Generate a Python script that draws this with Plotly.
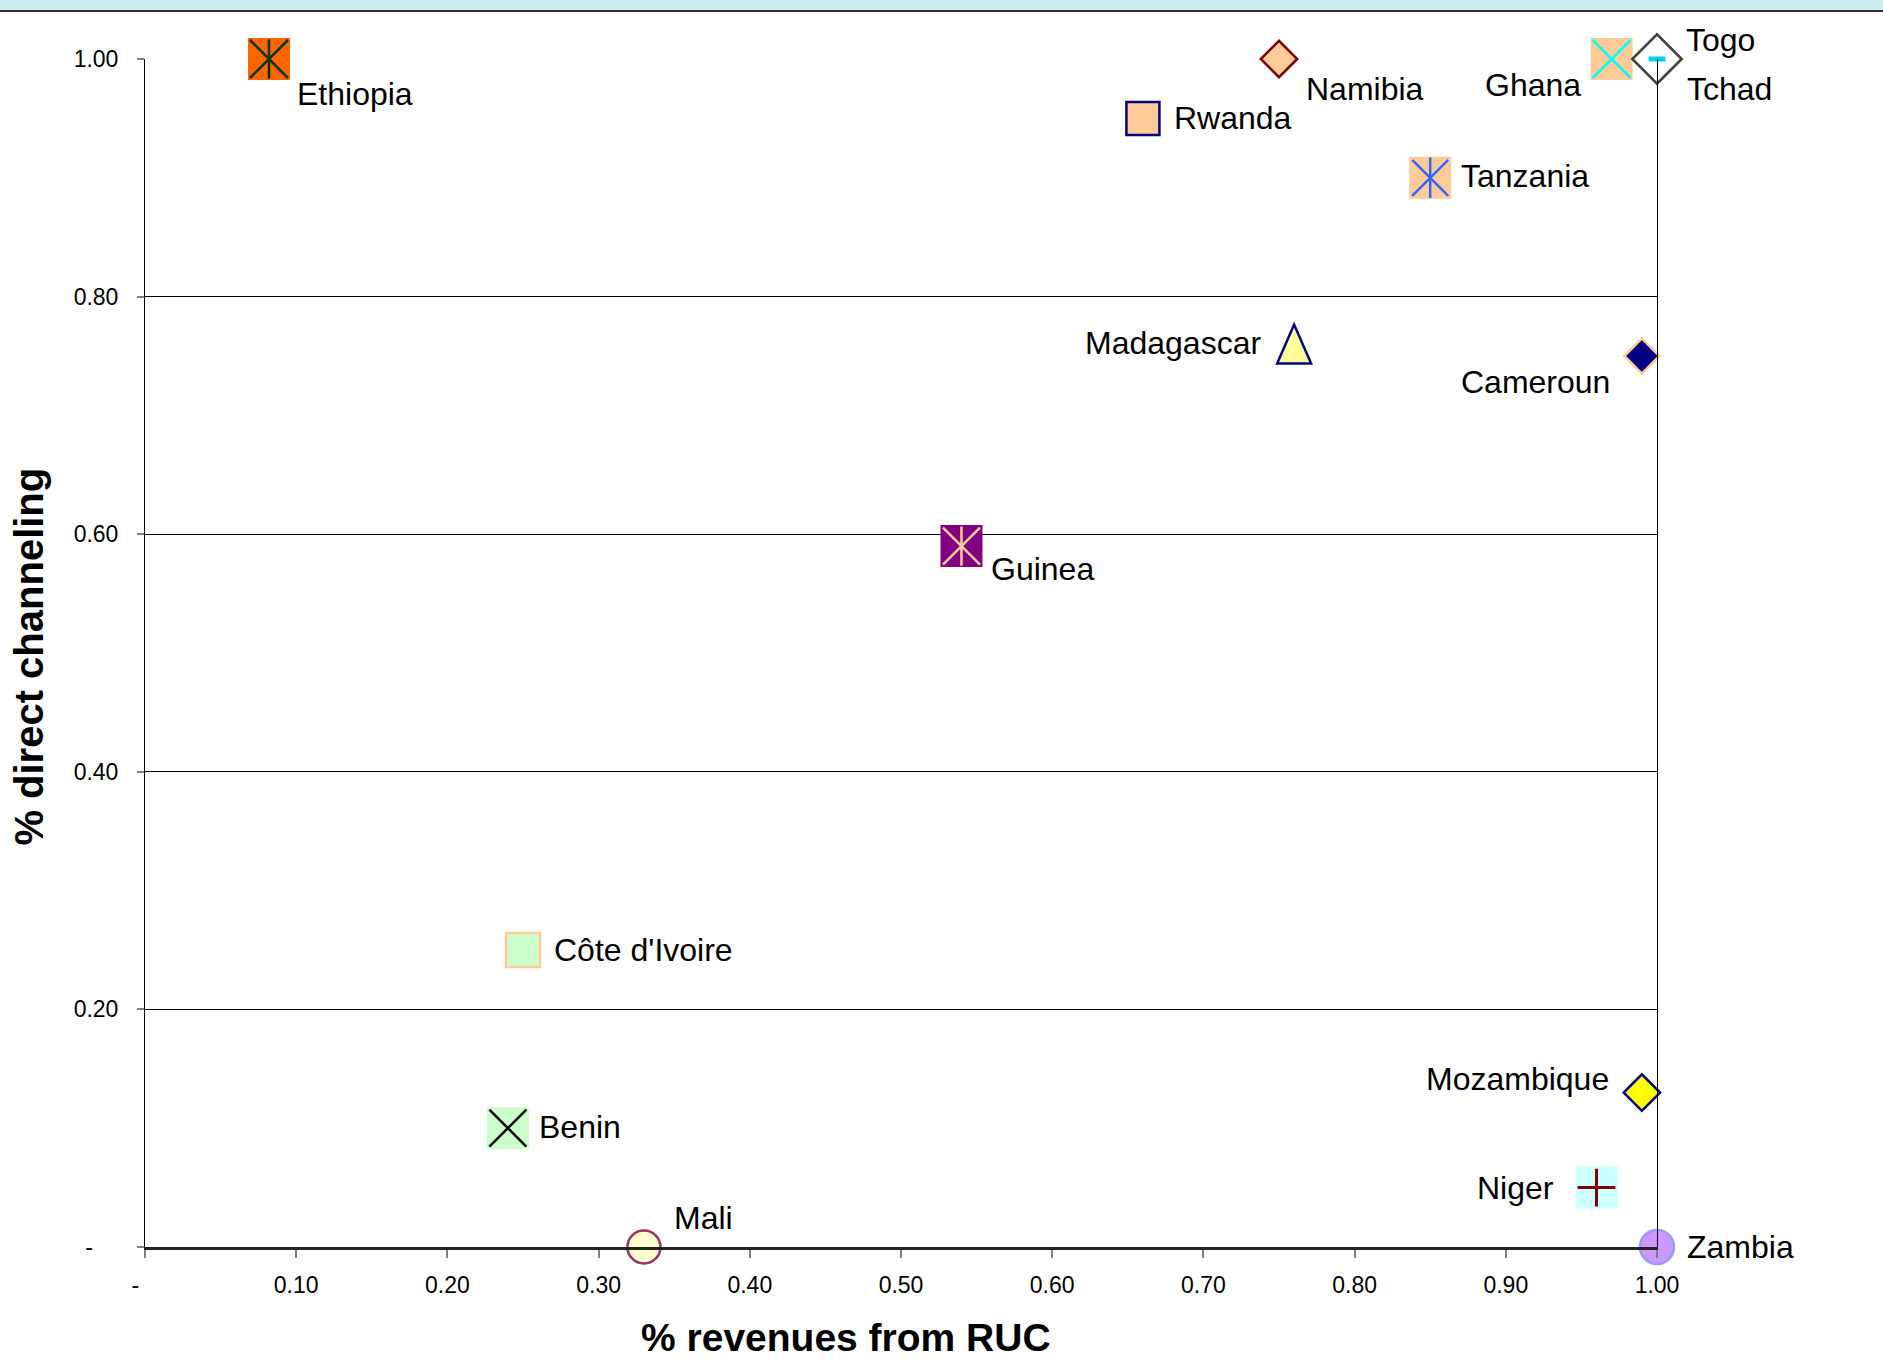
import plotly.graph_objects as go

# ---- data -------------------------------------------------------------
countries = ["Ethiopia", "Namibia", "Ghana", "Togo", "Tchad", "Rwanda",
             "Tanzania", "Madagascar", "Cameroun", "Guinea", "Côte d'Ivoire",
             "Benin", "Mali", "Mozambique", "Niger", "Zambia"]
rev_from_ruc = [0.082, 0.75, 0.97, 1.00, 1.00, 0.66, 0.85, 0.76, 0.99, 0.54,
                0.25, 0.24, 0.33, 0.99, 0.96, 1.00]
direct_channeling = [1.00, 1.00, 1.00, 1.00, 1.00, 0.95, 0.90, 0.76, 0.75,
                     0.59, 0.25, 0.10, 0.00, 0.13, 0.05, 0.00]

x_tick_vals = [0.0, 0.1, 0.2, 0.3, 0.4, 0.5, 0.6, 0.7, 0.8, 0.9, 1.0]
x_tick_text = ["-\u00a0\u00a0\u00a0", "0.10", "0.20", "0.30", "0.40", "0.50",
               "0.60", "0.70", "0.80", "0.90", "1.00"]
y_tick_vals = [0.0, 0.2, 0.4, 0.6, 0.8, 1.0]
y_tick_text = ["-\u00a0\u00a0\u00a0\u00a0", "0.20", "0.40", "0.60", "0.80", "1.00"]

# ---- per-country marker styles ---------------------------------------
# base: (symbol, size, fill, border colour, border width)
# overlays: list of (symbol, size, colour, width) drawn on top of the base
PEACH = "#FFCC99"
styles = {
    "Ethiopia":      (("square", 42, "#FF6600", "#FF6600", 0),
                      [("x-thin-open", 38, "#003300", 2.5), ("line-ns-open", 28, "#003300", 2.5)]),
    "Namibia":       (("diamond", 28, PEACH, "#800000", 2.5), []),
    "Ghana":         (("square", 42, PEACH, PEACH, 0),
                      [("x-thin-open", 38, "#00FFFF", 2.5)]),
    "Togo":          (("diamond", 38, "#FFFFFF", "#404040", 2.5), []),
    "Tchad":         ((None, 0, None, None, 0),
                      [("line-ew-open", 12, "#00CCFF", 5)]),
    "Rwanda":        (("square", 33, PEACH, "#000080", 2.5), []),
    "Tanzania":      (("square", 42, PEACH, PEACH, 0),
                      [("x-thin-open", 36, "#3366FF", 2.5), ("line-ns-open", 29, "#3366FF", 2.5)]),
    "Madagascar":    (("tall-triangle", 0, "#FFFF99", "#000080", 2.5), []),
    "Cameroun":      (("diamond", 27, "#000080", PEACH, 2.5), []),
    "Guinea":        (("square", 42, "#800080", "#800080", 0),
                      [("x-thin-open", 37, PEACH, 2.5), ("line-ns-open", 28, PEACH, 2.5)]),
    "Côte d'Ivoire": (("square", 34, "#CCFFCC", PEACH, 2.5), []),
    "Benin":         (("square", 42, "#CCFFCC", "#CCFFCC", 0),
                      [("x-thin-open", 37, "#000000", 2.5)]),
    "Mali":          (("circle", 33, "#FFFFCC", "#993366", 2.5), []),
    "Mozambique":    (("diamond", 28, "#FFFF00", "#000080", 2.5), []),
    "Niger":         (("square", 42, "#CCFFFF", "#CCFFFF", 0),
                      [("cross-thin-open", 27, "#800000", 3)]),
    "Zambia":        (("circle", 34, "#CC99FF", "#9999FF", 2.5), []),
}

# narrow upright triangle outline, in pixels around the point (half width, half height)
TRI_HALF_W, TRI_HALF_H = 17, 19.5

# label placement: (xanchor, xshift px, yshift px)
label_pos = {
    "Ethiopia": ("left", 26, -35), "Namibia": ("left", 25, -30),
    "Ghana": ("right", -29, -26), "Togo": ("left", 27, 19),
    "Tchad": ("left", 28, -30), "Rwanda": ("left", 29, 0),
    "Tanzania": ("left", 29, 2), "Madagascar": ("right", -31, 1),
    "Cameroun": ("right", -30, -26), "Guinea": ("left", 28, -23),
    "Côte d'Ivoire": ("left", 29, 0), "Benin": ("left", 29, 1),
    "Mali": ("left", 28, 29), "Mozambique": ("right", -31, 14),
    "Niger": ("right", -41, 0), "Zambia": ("left", 28, 0),
}

LABEL_FONT = dict(family="Liberation Sans, Arial, sans-serif", size=32, color="#000000")
TICK_FONT = dict(family="Liberation Sans, Arial, sans-serif", size=23, color="#000000")
X_TITLE_FONT = dict(family="Liberation Sans, Arial, sans-serif", size=39, color="#000000")
Y_TITLE_FONT = dict(family="Liberation Sans, Arial, sans-serif", size=40, color="#000000")

fig = go.Figure()

for name, xv, yv in zip(countries, rev_from_ruc, direct_channeling):
    base, overlays = styles[name]
    sym, size, fill, border, bw = base
    if sym == "tall-triangle":
        fig.add_shape(
            type="path", xref="x", yref="y",
            xsizemode="pixel", ysizemode="pixel", xanchor=xv, yanchor=yv,
            path=(f"M{-TRI_HALF_W},{-TRI_HALF_H} L{TRI_HALF_W},{-TRI_HALF_H} "
                  f"L0,{TRI_HALF_H} Z"),
            fillcolor=fill, line=dict(color=border, width=bw), layer="above")
        fig.add_trace(go.Scatter(
            x=[xv], y=[yv], mode="markers", name=name, cliponaxis=False,
            marker=dict(size=34, color="rgba(0,0,0,0)"),
            hoverinfo="name+x+y", showlegend=False))
    elif sym is not None:
        fig.add_trace(go.Scatter(
            x=[xv], y=[yv], mode="markers", name=name, cliponaxis=False,
            marker=dict(symbol=sym, size=size, color=fill,
                        line=dict(color=border, width=bw)),
            hoverinfo="name+x+y", showlegend=False))
    for osym, osize, ocol, ow in overlays:
        fig.add_trace(go.Scatter(
            x=[xv], y=[yv], mode="markers", name=name, cliponaxis=False,
            marker=dict(symbol=osym, size=osize, color=ocol,
                        line=dict(color=ocol, width=ow)),
            hoverinfo="skip", showlegend=False))
    xa, dx, dy = label_pos[name]
    fig.add_annotation(x=xv, y=yv, xref="x", yref="y", text=name,
                       showarrow=False, xanchor=xa, yanchor="middle",
                       xshift=dx, yshift=dy, font=LABEL_FONT)

# axis titles
fig.add_annotation(x=0.4636, y=-0.0758, xref="paper", yref="paper",
                   text="<b>% revenues from RUC</b>", showarrow=False,
                   xanchor="center", yanchor="middle", font=X_TITLE_FONT)
fig.add_annotation(x=-0.0770, y=0.4966, xref="paper", yref="paper",
                   text="<b>% direct channeling</b>", showarrow=False,
                   textangle=-90, xanchor="center", yanchor="middle", font=Y_TITLE_FONT)

# light blue band along the top edge
fig.add_shape(type="rect", xref="paper", yref="paper",
              x0=-0.0959, x1=1.1495, y0=1 + 48 / 1188, y1=1 + 60 / 1188,
              fillcolor="#CCEBF0", line_width=0, layer="below")
fig.add_shape(type="line", xref="paper", yref="paper",
              x0=-0.0959, x1=1.1495, y0=1 + 48 / 1188, y1=1 + 48 / 1188,
              line=dict(color="#333333", width=2))

fig.update_layout(
    width=1883, height=1362,
    margin=dict(l=145, r=226, t=59, b=115, pad=0),
    paper_bgcolor="#FFFFFF", plot_bgcolor="#FFFFFF",
    showlegend=False,
    xaxis=dict(range=[0, 1], tickmode="array", tickvals=x_tick_vals,
               ticktext=x_tick_text, showgrid=False, zeroline=False,
               showline=True, linecolor="#222222", linewidth=2.5,
               ticks="outside", ticklen=8, tickwidth=1.5, tickcolor="#808080",
               tickfont=TICK_FONT, ticklabelstandoff=8, fixedrange=True),
    yaxis=dict(range=[0, 1], tickmode="array", tickvals=y_tick_vals,
               ticktext=y_tick_text, showgrid=True, gridcolor="#000000",
               gridwidth=1, zeroline=False, showline=True, linecolor="#000000",
               linewidth=1, mirror=True, ticks="outside", ticklen=7,
               tickwidth=1.5, tickcolor="#808080", tickfont=TICK_FONT,
               ticklabelstandoff=14, fixedrange=True),
)

fig.write_html("out.html")
